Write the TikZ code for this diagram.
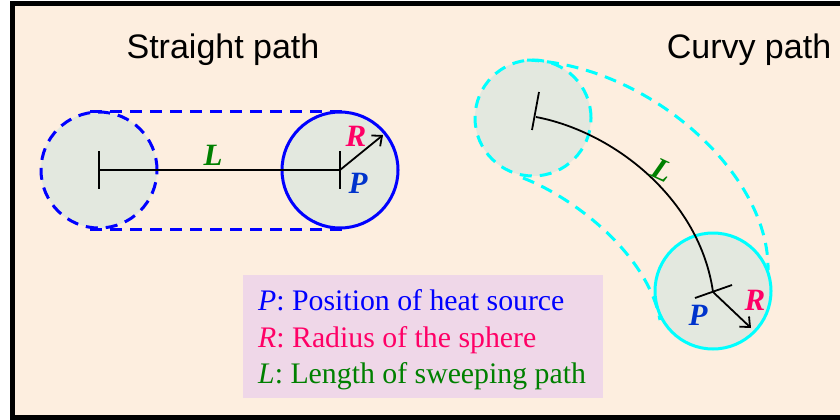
\documentclass[tikz,border=0pt]{standalone}
\usepackage{fontspec}
\setmainfont{Liberation Serif}
\setsansfont{Liberation Sans}
\usetikzlibrary{arrows.meta}
\definecolor{bg}{HTML}{FDEEDF}
\definecolor{disc}{HTML}{E3E8DF}
\definecolor{legbg}{HTML}{EFD7E8}
\definecolor{rcol}{HTML}{FF0066}
\definecolor{pcol}{HTML}{0033CC}
\definecolor{lcol}{HTML}{008000}
\definecolor{cyanc}{HTML}{00FFFF}
\definecolor{bluec}{HTML}{0000FF}
\begin{document}
\begin{tikzpicture}[x=1pt,y=-1pt,
  title/.style={font=\sffamily\fontsize{34}{40}\selectfont, inner sep=0pt},
  sym/.style={font=\bfseries\itshape\fontsize{31}{36}\selectfont, inner sep=0pt},
  disk/.style={circle, minimum size=116pt, inner sep=0pt, fill=disc, line width=3pt},
  dashline/.style={line width=3pt, dash pattern=on 12pt off 8pt},
  pathline/.style={line width=1.8pt, black},
  arr/.style={line width=1.8pt, -{Straight Barb[length=8pt,width=14pt,line width=1.8pt]}},
  leg/.style={font=\fontsize{29.8}{34}\selectfont, inner sep=0pt, anchor=base west}]
\useasboundingbox (0,0) rectangle (840,420);
\fill[white] (0,0) rectangle (840,420);
\fill[bg] (12,3.5) rectangle (840,417);
\draw[line width=5pt] (840,3.5) -- (12,3.5) -- (12,417) -- (840,417);

% ---------- Straight path ----------
\node[title] (t1) at (223,50) {Straight path};
\node[disk, draw=bluec, dashline] (c1) at (99,170) {};
\node[disk, draw=bluec] (c2) at (340,170) {};
\coordinate (u1) at (90,111);
\coordinate (u2) at (347,111);
\coordinate (d1) at (90,229);
\coordinate (d2) at (347,229);
\draw[bluec, dashline] (u1) -- (u2);
\draw[bluec, dashline] (d1) -- (d2);
\coordinate (s1) at (99,170);
\coordinate (p1) at (340,170);
\coordinate (s1a) at (99,151);
\coordinate (s1b) at (99,189);
\coordinate (p1a) at (340,151);
\coordinate (p1b) at (340,189);
\coordinate (r1) at (383,135);
\draw[pathline] (s1) -- (p1);
\draw[pathline] (s1a) -- (s1b);
\draw[pathline] (p1a) -- (p1b);
\draw[arr] (p1) -- (r1);
\node[sym, text=lcol] (L1) at (213,155) {L};
\node[sym, text=rcol] (R1) at (356,136) {R};
\node[sym, text=pcol] (P1) at (358,183) {P};

% ---------- Curvy path ----------
\node[title] (t2) at (749,50) {Curvy path};
\node[disk, draw=cyanc, dashline] (c3) at (533,118) {};
\node[disk, draw=cyanc] (c4) at (713,291) {};
\coordinate (o1) at (527,60);
\coordinate (o2) at (768,270);
\coordinate (i1) at (523,178);
\coordinate (i2) at (660,320);
\draw[cyanc, dashline] (o1) .. controls (650,65) and (770,175) .. (o2);
\draw[cyanc, dashline] (i1) .. controls (575,198) and (648,255) .. (i2);
\coordinate (s2) at (536,117);
\coordinate (e2) at (713,292);
\coordinate (s2a) at (539,92);
\coordinate (s2b) at (532,130);
\coordinate (e2a) at (695,298);
\coordinate (e2b) at (732,285);
\coordinate (r2) at (751,328);
\draw[pathline] (s2) .. controls (615,132) and (700,200) .. (e2);
\draw[pathline] (s2a) -- (s2b);
\draw[pathline] (e2a) -- (e2b);
\draw[arr] (e2) -- (r2);
\node[sym, text=lcol, rotate=-25] (L2) at (662,170) {L};
\node[sym, text=rcol] (R2) at (755,300) {R};
\node[sym, text=pcol] (P2) at (698,315) {P};

% ---------- Legend ----------
\node[fill=legbg, anchor=north west, minimum width=360pt, minimum height=123pt, inner sep=0pt] (lg) at (243,275) {};
\node[leg, text=bluec] (lg1) at (258,310) {\textit{P}: Position of heat source};
\node[leg, text=rcol] (lg2) at (258,347) {\textit{R}: Radius of the sphere};
\node[leg, text=lcol] (lg3) at (258,383) {\textit{L}: Length of sweeping path};
\end{tikzpicture}
\end{document}
